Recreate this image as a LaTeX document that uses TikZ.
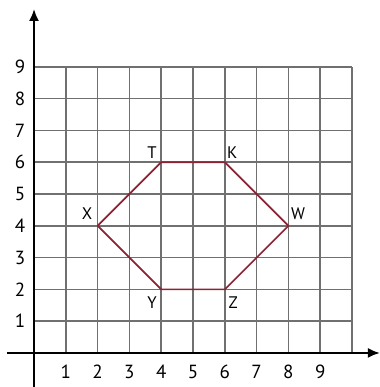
\documentclass[tikz,border=0pt]{standalone}
\usepackage{fontspec}
\setmainfont{PT Sans}
\usetikzlibrary{calc,arrows.meta}
\tikzstyle{vx}=[shape=coordinate]
\tikzstyle{num}=[font=\fontsize{17}{17}\selectfont, inner sep=0]
\tikzstyle{lbl}=[font=\fontsize{15}{15}\selectfont, inner sep=0]
\tikzstyle{axis}=[line width=2.4pt, -{Latex[length=0.38cm,width=0.32cm]}]
\definecolor{gridgray}{RGB}{112,112,112}
\definecolor{hexred}{RGB}{140,35,52}

\begin{document}
\begin{tikzpicture}
\useasboundingbox (-1.07,-1.07) rectangle (10.88,11.1);
\draw[gridgray, line width=1.3pt] (0,0) grid (10,9);
\draw[axis] (-0.85,0)--(10.88,0);
\draw[axis] (0,-1.07)--(0,10.82);
\foreach \x in {1,...,9} {\node at (\x,-0.6)[num](nx\x){\x};}
\foreach \y in {1,...,9} {\node at (-0.44,\y)[num](ny\y){\y};}
\node at (2,4)[vx](X){};
\node at (4,6)[vx](T){};
\node at (6,6)[vx](K){};
\node at (8,4)[vx](W){};
\node at (6,2)[vx](Z){};
\node at (4,2)[vx](Y){};
\draw[hexred, line width=1.5pt, line join=round] (X)--(T)--(K)--(W)--(Z)--(Y)--cycle;
\node at ($(T)+(-0.29,0.29)$)[lbl](lT){T};
\node at ($(K)+(0.23,0.29)$)[lbl](lK){K};
\node at ($(W)+(0.3,0.38)$)[lbl](lW){W};
\node at ($(X)+(-0.33,0.37)$)[lbl](lX){X};
\node at ($(Y)+(-0.29,-0.43)$)[lbl](lY){Y};
\node at ($(Z)+(0.26,-0.43)$)[lbl](lZ){Z};
\end{tikzpicture}
\end{document}
